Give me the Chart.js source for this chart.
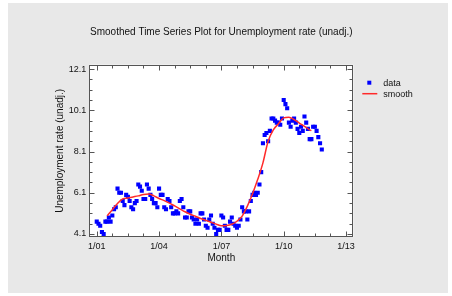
<!DOCTYPE html>
<html>
<head>
<meta charset="utf-8">
<script src="https://cdn.jsdelivr.net/npm/chart.js@4.4.1/dist/chart.umd.min.js"></script>
<style>
  html, body { margin: 0; padding: 0; background: #fff; }
  #wrap { position: absolute; left: 8px; top: 3px; width: 440px; height: 290px; background: #e8e8e8; }
  canvas { display: block; }
</style>
</head>
<body>
<div id="wrap"><canvas id="chart" width="440" height="290"></canvas></div>
<script>
// monthly unemployment rate (unadj.), Jan 2001 .. Nov 2011
const startYear = 2001;
const rates = [
  4.7, 4.6, 4.5, 4.2, 4.1, 4.7, 4.7, 4.9, 4.7, 5.0, 5.3, 5.4,
  6.3, 6.1, 6.1, 5.7, 5.5, 6.0, 5.9, 5.7, 5.4, 5.3, 5.6, 5.7,
  6.5, 6.4, 6.2, 5.8, 5.8, 6.5, 6.3, 6.0, 5.8, 5.6, 5.6, 5.4,
  6.3, 6.0, 6.0, 5.4, 5.3, 5.8, 5.7, 5.4, 5.1, 5.1, 5.2, 5.1,
  5.7, 5.8, 5.4, 4.9, 4.9, 5.2, 5.2, 4.9, 4.8, 4.6, 4.8, 4.6,
  5.1, 5.1, 4.8, 4.5, 4.4, 4.8, 5.0, 4.6, 4.4, 4.1, 4.3, 4.3,
  5.0, 4.9, 4.5, 4.3, 4.3, 4.7, 4.9, 4.6, 4.5, 4.4, 4.5, 4.8,
  5.4, 5.2, 5.2, 4.8, 5.2, 5.7, 6.0, 6.1, 6.0, 6.1, 6.5, 7.1,
  8.5, 8.9, 9.0, 8.6, 9.1, 9.7, 9.7, 9.6, 9.5, 9.5, 9.4, 9.7,
  10.6, 10.4, 10.2, 9.5, 9.3, 9.6, 9.7, 9.5, 9.2, 9.0, 9.3, 9.1,
  9.8, 9.5, 9.2, 8.7, 8.7, 9.3, 9.3, 9.1, 8.8, 8.5, 8.2
];

// smoothed curve (month index from Jan 2001)
const smoothMonths = [6, 9, 12, 15, 18, 21, 24, 27, 30, 33, 36, 39, 42, 45, 48, 51, 54, 57, 60,
  63, 66, 69, 72, 75, 78, 81, 84, 87, 90, 93, 96, 99, 102, 105, 108, 111, 114, 117, 120, 123, 124];
const smoothRates = [4.99, 5.28, 5.58, 5.80, 5.85, 5.90, 5.95, 6.02, 6.04, 5.95, 5.82, 5.72, 5.60,
  5.46, 5.32, 5.18, 5.06, 4.96, 4.85, 4.76, 4.67, 4.58, 4.50, 4.51, 4.57, 4.72, 4.97, 5.45, 6.05,
  6.75, 7.55, 8.60, 9.15, 9.45, 9.73, 9.76, 9.65, 9.48, 9.32, 9.15, 9.11];

const xTicks = [0, 36, 72, 108, 144];
const yTicks = [4.1, 6.1, 8.1, 10.1, 12.1];

const FONT = '"Liberation Sans", Arial, sans-serif';
const TEXT = '#111';

// white plot area, box frame and inward tick marks on all four sides
const frameTicks = {
  id: 'frameTicks',
  beforeDraw(chart) {
    const { ctx, chartArea: a } = chart;
    ctx.save();
    ctx.fillStyle = '#fff';
    ctx.fillRect(a.left, a.top, a.right - a.left, a.bottom - a.top);
    ctx.restore();
  },
  afterDraw(chart) {
    const { ctx, chartArea: a, scales: { x, y } } = chart;
    const L = Math.round(a.left) + 0.5, R = Math.round(a.right) - 0.5;
    const T = Math.round(a.top) + 0.5, B = Math.round(a.bottom) - 0.5;
    ctx.save();
    ctx.strokeStyle = '#555';
    ctx.lineWidth = 1;
    ctx.strokeRect(L, T, R - L, B - T);
    ctx.beginPath();
    for (let m = 0; m <= 144; m += 9) {
      const px = Math.round(x.getPixelForValue(m)) + 0.5;
      const len = m % 36 === 0 ? 5 : 3;
      ctx.moveTo(px, B); ctx.lineTo(px, B - len);
      ctx.moveTo(px, T); ctx.lineTo(px, T + len);
    }
    for (let i = 0; i <= 16; i++) {
      const v = 4.1 + i * 0.5;
      const py = Math.round(y.getPixelForValue(v)) + 0.5;
      const len = i % 4 === 0 ? 5 : 3;
      ctx.moveTo(L, py); ctx.lineTo(L + len, py);
      ctx.moveTo(R, py); ctx.lineTo(R - len, py);
    }
    ctx.stroke();
    ctx.restore();
  }
};

// legend at the right of the plot
const sideLegend = {
  id: 'sideLegend',
  afterDraw(chart) {
    const { ctx, chartArea: a } = chart;
    const ds = chart.data.datasets;
    const x0 = a.right + 9;
    ctx.save();
    ctx.font = '9px ' + FONT;
    ctx.textBaseline = 'middle';
    // data
    ctx.fillStyle = ds[0].backgroundColor;
    ctx.fillRect(x0 + 5, a.top + 16, 4, 4);
    ctx.fillStyle = TEXT;
    ctx.fillText(ds[0].label, x0 + 21, a.top + 18.5);
    // smooth
    ctx.strokeStyle = ds[1].borderColor;
    ctx.lineWidth = 1.5;
    ctx.beginPath();
    ctx.moveTo(x0, a.top + 29); ctx.lineTo(x0 + 15, a.top + 29);
    ctx.stroke();
    ctx.fillText(ds[1].label, x0 + 21, a.top + 29.5);
    ctx.restore();
  }
};

new Chart(document.getElementById('chart'), {
  type: 'scatter',
  data: {
    datasets: [
      {
        label: 'data',
        data: rates.map((v, i) => ({ x: i, y: v })),
        pointStyle: 'rect',
        pointRadius: 2.9,
        pointBorderWidth: 0,
        backgroundColor: '#0000ff',
        borderColor: '#0000ff',
        order: 1
      },
      {
        label: 'smooth',
        data: smoothMonths.map((m, i) => ({ x: m, y: smoothRates[i] })),
        showLine: true,
        cubicInterpolationMode: 'monotone',
        pointRadius: 0,
        borderColor: '#ff2a2a',
        borderWidth: 1.5,
        order: 0
      }
    ]
  },
  options: {
    responsive: false,
    animation: false,
    devicePixelRatio: 1,
    layout: { padding: { left: 0, right: 94.7, top: 0, bottom: 26 } },
    plugins: {
      legend: { display: false },
      tooltip: { enabled: false },
      title: {
        display: true,
        fullSize: false,
        text: 'Smoothed Time Series Plot for Unemployment rate (unadj.)',
        color: TEXT,
        font: { family: FONT, size: 10, weight: 'normal' },
        padding: { top: 23.7, bottom: 26 }
      }
    },
    scales: {
      x: {
        type: 'linear',
        min: -4.3,
        max: 148.2,
        afterBuildTicks: s => { s.ticks = xTicks.map(v => ({ value: v })); },
        afterFit: s => { s.height = 30; },
        grid: { display: false, drawTicks: false },
        border: { display: false },
        ticks: {
          autoSkip: false,
          maxRotation: 0,
          padding: 4,
          color: TEXT,
          font: { family: FONT, size: 9 },
          callback: v => '1/' + String((startYear + v / 12) % 100).padStart(2, '0')
        },
        title: {
          display: true,
          text: 'Month',
          color: TEXT,
          font: { family: FONT, size: 10 },
          padding: { top: 0, bottom: 3 }
        }
      },
      y: {
        min: 3.955,
        max: 12.31,
        afterBuildTicks: s => { s.ticks = yTicks.map(v => ({ value: v })); },
        afterFit: s => { s.width = 81.3; },
        grid: { display: false, drawTicks: false },
        border: { display: false },
        ticks: {
          padding: 3,
          color: TEXT,
          font: { family: FONT, size: 9 },
          callback: v => v.toFixed(1)
        },
        title: {
          display: true,
          text: 'Unemployment rate (unadj.)',
          color: TEXT,
          font: { family: FONT, size: 10 },
          padding: { top: 46, bottom: 0 }
        }
      }
    }
  },
  plugins: [frameTicks, sideLegend]
});
</script>
</body>
</html>
